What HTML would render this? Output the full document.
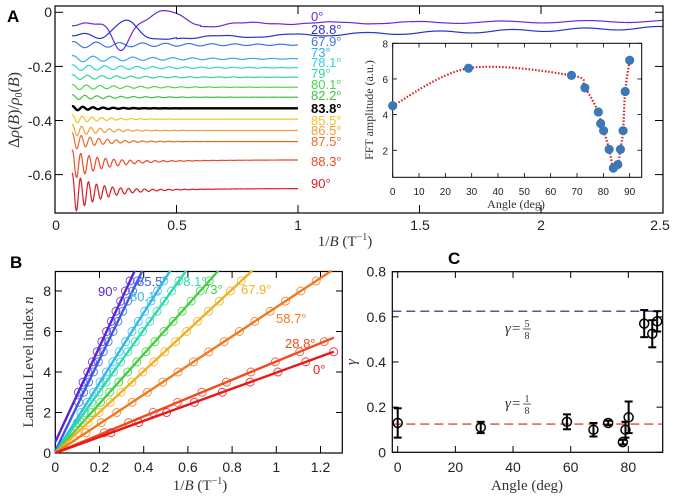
<!DOCTYPE html>
<html><head><meta charset="utf-8"><style>
html,body{margin:0;padding:0;background:#fff;}
svg{display:block;font-family:"Liberation Sans",sans-serif;}
.serif{font-family:"Liberation Serif",serif;}
</style></head><body>
<svg id="s" width="678" height="498" viewBox="0 0 678 498" xmlns="http://www.w3.org/2000/svg">
<rect width="678" height="498" fill="#fff"/>
<g id="A"></g>
<g id="B"></g>
<g id="C"></g>
<text x="7" y="22" font-size="17" font-weight="bold">A</text>
<text x="10" y="268" font-size="17" font-weight="bold">B</text>
<text x="448" y="264" font-size="17" font-weight="bold">C</text>
<g font-size="14" fill="#222">
<text x="52" y="17" text-anchor="end">0</text>
<text x="52" y="72" text-anchor="end">-0.2</text>
<text x="52" y="126" text-anchor="end">-0.4</text>
<text x="52" y="180" text-anchor="end">-0.6</text>
<text x="56" y="230" text-anchor="middle">0</text>
<text x="177" y="230" text-anchor="middle">0.5</text>
<text x="298" y="230" text-anchor="middle">1</text>
<text x="420" y="230" text-anchor="middle">1.5</text>
<text x="541" y="230" text-anchor="middle">2</text>
<text x="660" y="230" text-anchor="middle">2.5</text>
</g>
<text class="serif" x="0" y="0" font-size="16" fill="#333" text-anchor="middle" transform="translate(19,110) rotate(-90)"><tspan>Δ</tspan><tspan font-style="italic">ρ</tspan>(<tspan font-style="italic">B</tspan>)/<tspan font-style="italic">ρ</tspan><tspan font-size="10" dy="3">0</tspan><tspan dy="-3">(</tspan><tspan font-style="italic">B</tspan>)</text>
<text class="serif" x="345" y="246" font-size="15" fill="#333" text-anchor="middle">1/<tspan font-style="italic">B</tspan> (T<tspan font-size="10" dy="-6">−1</tspan><tspan dy="6">)</tspan></text>
<g font-size="13">
<text x="311" y="21" fill="#6a2ad8">0°</text>
<text x="311" y="34" fill="#2a35c8">28.8°</text>
<text x="311" y="46" fill="#3a78e0">67.9°</text>
<text x="311" y="57" fill="#38a8ea">73°</text>
<text x="311" y="67" fill="#30d4e0">78.1°</text>
<text x="311" y="78" fill="#2ed89a">79°</text>
<text x="311" y="89" fill="#48d848">80.1°</text>
<text x="311" y="100" fill="#40c040">82.2°</text>
<text x="311" y="113" fill="#000" font-weight="bold">83.8°</text>
<text x="311" y="125" fill="#f2c428">85.5°</text>
<text x="311" y="135" fill="#f0a038">86.5°</text>
<text x="311" y="146" fill="#ec6a2a">87.5°</text>
<text x="311" y="166" fill="#ee4a2a">88.3°</text>
<text x="311" y="188" fill="#e01a22">90°</text>
</g>
</svg>
<script>
(function(){
const NS="http://www.w3.org/2000/svg";
function el(parent,tag,attrs,txt){const e=document.createElementNS(NS,tag);for(const k in attrs)e.setAttribute(k,attrs[k]);if(txt!==undefined)e.textContent=txt;parent.appendChild(e);return e;}
const A=document.getElementById('A'),B=document.getElementById('B'),C=document.getElementById('C');
const ax=x=>55+243*x, ay=y=>12.3-270.5*y;
const g=(x,m,s)=>Math.exp(-((x-m)*(x-m))/(2*s*s));
function curve(f,x0,x1,col,w){let d="";const n=Math.round((x1-x0)*600);for(let i=0;i<=n;i++){const x=x0+(x1-x0)*i/n;d+=(i?"L":"M")+ax(x).toFixed(2)+","+ay(f(x)).toFixed(2);}el(A,'path',{d:d,fill:'none',stroke:col,'stroke-width':w||1.2});}
const specs=[
[-0.12,0.095,0.012,0.5,'#3a78e0'],
[-0.172,0.082,0.012,0.4,'#38a8ea'],
[-0.205,0.066,0.011,0.35,'#30d4e0'],
[-0.24,0.06,0.009,0.3,'#2ed89a'],
[-0.277,0.056,0.01,0.25,'#48d848'],
[-0.314,0.05,0.009,0.2,'#40c040'],
[-0.355,0.042,0.008,0.12,'#000',2.4],
[-0.395,0.04,0.016,0.12,'#f2c428'],
[-0.437,0.038,0.022,0.12,'#f0a038'],
[-0.478,0.036,0.032,0.11,'#ec6a2a'],
[-0.545,0.034,0.055,0.12,'#ee4a2a',1.2,0.02],
[-0.651,0.033,0.075,0.11,'#e01a22',1.2,0.02]
];
specs.forEach(s=>{const [b,P,Am,d,col,w,sl]=s;curve(x=>b-(sl||0)*Math.exp(-(x-0.07)/0.3)+Am*Math.exp(-(x-0.07)/d)*Math.sin(2*Math.PI*(x-0.07)/P+1.2),0.07,1.0,col,w||1.2);});
curve(x=>-0.045+0.006*Math.sin(2*Math.PI*x/0.1)*Math.exp(-x/0.5)+0.01*g(x,0.2,0.03)-0.095*g(x,0.27,0.035)+0.05*g(x,0.46,0.06)-0.01*g(x,0.62,0.06)+0.012*x/2.5+0.004*Math.sin(2*Math.PI*x/0.35)*(x>0.6?1:0),0.07,2.5,'#6a2ad8',1.2);
curve(x=>-0.082+0.006*Math.sin(2*Math.PI*x/0.1)*Math.exp(-x/0.4)-0.015*g(x,0.2,0.03)+0.055*g(x,0.29,0.04)-0.015*g(x,0.42,0.05)-0.01*Math.min(1,Math.max(0,(x-0.35)/0.2))+0.035*Math.max(0,x-0.6)/1.9+0.005*Math.sin(2*Math.PI*x/0.3)*(x>0.5?1:0),0.07,2.5,'#2a35c8',1.2);
el(A,'rect',{x:55,y:6,width:608,height:207,fill:'none',stroke:'#000','stroke-width':1.2});
[0.5,1,1.5,2].forEach(v=>{el(A,'line',{x1:ax(v),x2:ax(v),y1:213,y2:205,stroke:'#000'});el(A,'line',{x1:ax(v),x2:ax(v),y1:6,y2:14,stroke:'#000'});});
[0,-0.2,-0.4,-0.6].forEach(v=>{el(A,'line',{x1:55,x2:63,y1:ay(v),y2:ay(v),stroke:'#000'});el(A,'line',{x1:663,x2:655,y1:ay(v),y2:ay(v),stroke:'#000'});});
const ix=a=>392.7+2.633*a, iy=v=>43.3+(8-v)*17.83;
el(A,'rect',{x:392.7,y:43.3,width:249,height:134,fill:'#fff',stroke:'#000','stroke-width':1});
for(let a=0;a<=90;a+=10){el(A,'line',{x1:ix(a),x2:ix(a),y1:177.3,y2:173,stroke:'#000','stroke-width':0.8});el(A,'line',{x1:ix(a),x2:ix(a),y1:43.3,y2:47.5,stroke:'#000','stroke-width':0.8});el(A,'text',{x:ix(a),y:195,'font-size':10,'text-anchor':'middle',fill:'#222'},String(a));}
[2,4,6,8].forEach(v=>{el(A,'line',{x1:392.7,x2:397,y1:iy(v),y2:iy(v),stroke:'#000','stroke-width':0.8});el(A,'line',{x1:641.7,x2:637.5,y1:iy(v),y2:iy(v),stroke:'#000','stroke-width':0.8});el(A,'text',{x:388,y:iy(v)+4,'font-size':10,'text-anchor':'end',fill:'#222'},String(v));});
el(A,'text',{x:516,y:208,'font-size':12,'text-anchor':'middle',fill:'#333','class':'serif'},'Angle (deg)');
el(A,'text',{x:0,y:0,'font-size':12,'text-anchor':'middle',fill:'#333','class':'serif',transform:'translate(373,110) rotate(-90)'},'FFT amplitude (a.u.)');
const pts=[[0,4.5],[28.8,6.6],[67.9,6.2],[73,5.5],[78.1,4.15],[79,3.5],[80.1,3.1],[82.2,2.05],[83.8,1.0],[85.5,1.2],[86.5,2.05],[87.5,3.1],[88.3,5.3],[90,7.05]];
const P=pts.map(p=>[ix(p[0]),iy(p[1])]);
let d="M"+P[0][0]+","+P[0][1];
for(let i=0;i<P.length-1;i++){const p0=P[Math.max(0,i-1)],p1=P[i],p2=P[i+1],p3=P[Math.min(P.length-1,i+2)];const t=6;d+=`C${p1[0]+(p2[0]-p0[0])/t},${p1[1]+(p2[1]-p0[1])/t} ${p2[0]-(p3[0]-p1[0])/t},${p2[1]-(p3[1]-p1[1])/t} ${p2[0]},${p2[1]}`;}
el(A,'path',{d:d,fill:'none',stroke:'#d42020','stroke-width':2.2,'stroke-dasharray':'1.5,1.8'});
P.forEach(p=>el(A,'circle',{cx:p[0],cy:p[1],r:4.6,fill:'#3a78b8'}));
const bx=x=>55.3+221*x, by=n=>453-20.25*n;
el(B,'rect',{x:55.3,y:271.5,width:287,height:181.5,fill:'none',stroke:'#000','stroke-width':1.2});
[0.2,0.4,0.6,0.8,1,1.2].forEach(v=>{el(B,'line',{x1:bx(v),x2:bx(v),y1:453,y2:446,stroke:'#000'});el(B,'line',{x1:bx(v),x2:bx(v),y1:271.5,y2:278,stroke:'#000'});});
[0,0.2,0.4,0.6,0.8,1,1.2].forEach(v=>el(B,'text',{x:bx(v),y:472,'font-size':14,'text-anchor':'middle',fill:'#222'},String(v)));
[0,2,4,6,8].forEach(v=>{if(v){el(B,'line',{x1:55.3,x2:62,y1:by(v),y2:by(v),stroke:'#000'});el(B,'line',{x1:342.3,x2:336,y1:by(v),y2:by(v),stroke:'#000'});}el(B,'text',{x:51,y:by(v)+5,'font-size':14,'text-anchor':'end',fill:'#222'},String(v));});
const yl=el(B,'text',{x:0,y:0,'font-size':15,'text-anchor':'middle',fill:'#333','class':'serif',transform:'translate(33,362) rotate(-90)'});
yl.innerHTML='Landau Level index <tspan font-style="italic">n</tspan>';
const tl=el(B,'text',{x:200,y:490,'font-size':15,'text-anchor':'middle',fill:'#333','class':'serif'});
tl.innerHTML='1/<tspan font-style="italic">B</tspan> (T<tspan font-size="10" dy="-6">−1</tspan><tspan dy="6">)</tspan>';
const lines=[
[23.5,0.55,'#5a22d8','90°',98,296],
[22.6,0.1,'#3a5ae0','85.5°',137,286],
[17.3,0,'#30b8ec','80.1°',130,301],
[15.2,0,'#2ed8b0','78.1°',176,286],
[12.2,0,'#40d040','73°',203,294],
[10.1,0,'#f0b020','67.9°',241,294],
[7.2,0,'#f07a20','58.7°',276,323],
[4.52,0,'#f04a20','28.8°',285,348],
[3.97,0,'#e81818','0°',313,374]];
lines.forEach(L=>{const [s,b,col,lab,lx,ly]=L;let xe=(9-b)/s;if(xe>1.26)xe=1.26;
 for(let n=1;n<=8.5;n+=0.5){const x=(n-b)/s;if(x>xe||x<0.09)continue;el(B,'circle',{cx:bx(x),cy:by(n),r:4,fill:'none',stroke:col,'stroke-width':0.9,opacity:0.85});}
 el(B,'line',{x1:bx(0),y1:by(b),x2:bx(xe),y2:by(b+s*xe),stroke:col,'stroke-width':2.4});
 el(B,'text',{x:lx,y:ly,'font-size':13,fill:col},lab);});
const cx=a=>397.7+2.883*a, cy=v=>452.3-225.8*v;
el(C,'rect',{x:392.3,y:271.7,width:270.4,height:180.6,fill:'none',stroke:'#000','stroke-width':1.2});
[0,20,40,60,80].forEach(a=>{el(C,'line',{x1:cx(a),x2:cx(a),y1:452.3,y2:446,stroke:'#000'});el(C,'line',{x1:cx(a),x2:cx(a),y1:271.7,y2:278,stroke:'#000'});el(C,'text',{x:cx(a),y:472,'font-size':14,'text-anchor':'middle',fill:'#222'},String(a));});
[0,0.2,0.4,0.6,0.8].forEach(v=>{el(C,'line',{x1:392.3,x2:398.5,y1:cy(v),y2:cy(v),stroke:'#000'});el(C,'line',{x1:662.7,x2:656.5,y1:cy(v),y2:cy(v),stroke:'#000'});el(C,'text',{x:386,y:cy(v)+5,'font-size':14,'text-anchor':'end',fill:'#222'},String(v));});
el(C,'text',{x:527,y:490,'font-size':15,'text-anchor':'middle',fill:'#333','class':'serif'},'Angle (deg)');
el(C,'text',{x:0,y:0,'font-size':15,'text-anchor':'middle',fill:'#333','class':'serif','font-style':'italic',transform:'translate(356,362) rotate(-90)'},'γ');
el(C,'line',{x1:392.3,x2:662.7,y1:cy(0.625),y2:cy(0.625),stroke:'#1a2080','stroke-width':1.2,'stroke-dasharray':'9,5'});
el(C,'line',{x1:392.3,x2:662.7,y1:cy(0.125),y2:cy(0.125),stroke:'#d02020','stroke-width':1.2,'stroke-dasharray':'9,5'});
function frac(x,y,num){el(C,'text',{x:x,y:y,'font-size':15,fill:'#333','class':'serif','font-style':'italic'},'γ');el(C,'text',{x:x+7,y:y,'font-size':15,fill:'#333','class':'serif'},'=');el(C,'text',{x:x+22,y:y-6,'font-size':10,fill:'#333','class':'serif','text-anchor':'middle'},num);el(C,'line',{x1:x+18,x2:x+26,y1:y-4,y2:y-4,stroke:'#333','stroke-width':0.8});el(C,'text',{x:x+22,y:y+6,'font-size':10,fill:'#333','class':'serif','text-anchor':'middle'},'8');}
frac(505,333,'5');frac(505,408,'1');
const data=[[0,0.13,0.065],[28.8,0.11,0.025],[58.7,0.135,0.033],[67.9,0.10,0.03],[73,0.13,0.01],[78.1,0.045,0.01],[79,0.10,0.035],[80.1,0.155,0.07],[85.5,0.57,0.06],[88.3,0.525,0.06],[90,0.58,0.045]];
data.forEach(p=>{const x=cx(p[0]),y=cy(p[1]),t=cy(p[1]+p[2]),b=cy(p[1]-p[2]);
 el(C,'line',{x1:x,x2:x,y1:t,y2:b,stroke:'#000','stroke-width':2});
 el(C,'line',{x1:x-4,x2:x+4,y1:t,y2:t,stroke:'#000','stroke-width':2});
 el(C,'line',{x1:x-4,x2:x+4,y1:b,y2:b,stroke:'#000','stroke-width':2});
 el(C,'circle',{cx:x,cy:y,r:4.5,fill:'none',stroke:'#000','stroke-width':1.5});});
})();
</script>
</body></html>
